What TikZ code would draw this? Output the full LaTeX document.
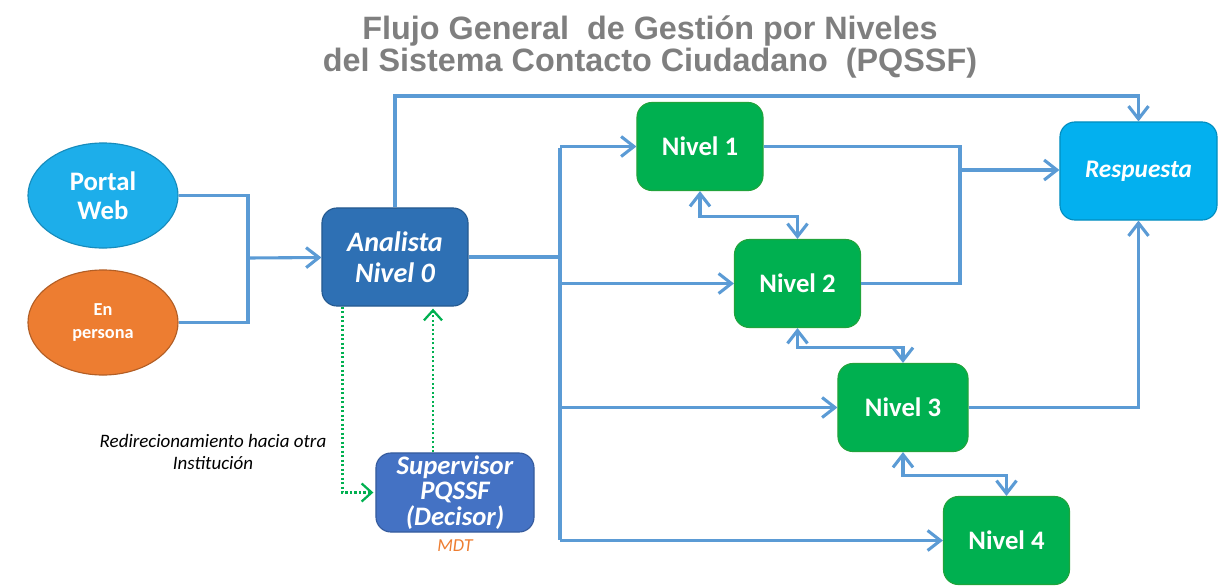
\documentclass[tikz,border=0pt]{standalone}
\usepackage{fontspec}
\setmainfont{Carlito}
\newfontfamily\titlefont{Liberation Sans}
\usetikzlibrary{arrows.meta, positioning, shapes.geometric}
\definecolor{lineblue}{HTML}{5B9BD5}
\definecolor{webblue}{HTML}{1DAEEA}
\definecolor{persorange}{HTML}{ED7D31}
\definecolor{anablue}{HTML}{2E70B4}
\definecolor{supblue}{HTML}{4472C4}
\definecolor{respblue}{HTML}{03B0EF}
\definecolor{nivgreen}{HTML}{00B050}
\definecolor{titlegray}{HTML}{7F7F7F}
\tikzset{
  source/.style={ellipse,draw,line width=0.8pt,minimum width=37.5mm,minimum height=26.25mm,inner sep=0pt,align=center,text=white,font=\bfseries},
  box/.style={rectangle,rounded corners=3.75mm,draw,line width=0.8pt,inner sep=0pt,align=center,text=white,font=\bfseries},
  nivel/.style={box,fill=nivgreen,draw=nivgreen!75!olive,minimum width=31.5mm,minimum height=22mm,font=\fontsize{19}{20}\selectfont\bfseries},
  line/.style={draw=lineblue,line width=2.2pt},
  arrow/.style={line,-{Straight Barb[length=3.2mm,width=5mm,line width=2.2pt]}},
  both/.style={line,{Straight Barb[length=3.2mm,width=5mm,line width=2.2pt]}-{Straight Barb[length=3.2mm,width=5mm,line width=2.2pt]}},
  dotarrow/.style={draw=nivgreen,line width=2pt,dash pattern=on 1.6pt off 1.6pt,-{Straight Barb[length=2.5mm,width=4.5mm,line width=1.6pt,sep]}}
}

\begin{document}
\begin{tikzpicture}[x=0.025cm,y=-0.025cm]
\useasboundingbox (0,0) rectangle (1219,586);
% title
\node[align=center,text=titlegray,font=\titlefont\fontsize{23}{23}\selectfont\bfseries] (title) at (650,47)
  {Flujo General\ \ de Gestión por Niveles\\del Sistema Contacto Ciudadano\ \ (PQSSF)};
% inputs
\node[source,fill=webblue,draw=webblue!80!black,font=\fontsize{19}{21}\selectfont\bfseries] (web) at (103,195.5) {Portal\\Web};
\node[source,fill=persorange,draw=persorange!75!black,font=\fontsize{13}{17}\selectfont\bfseries] (pers) at (103,322.5) {En\\persona};
% main boxes
\node[box,fill=anablue,draw=anablue!80!black,minimum width=36.5mm,minimum height=24.5mm,font=\fontsize{20}{22}\selectfont\bfseries\itshape] (ana) at (395,257) {Analista\\Nivel 0};
\node[box,fill=supblue,draw=supblue!80!black,minimum width=39.5mm,minimum height=19.75mm,font=\fontsize{19}{18}\selectfont\bfseries\itshape] (sup) at (455,492.5) {Supervisor\\PQSSF\\(Decisor)};
\node[below=0.6mm of sup,text=persorange,font=\fontsize{13}{14}\selectfont\itshape] (mdt) {MDT};
\node[align=center,font=\fontsize{13.5}{15}\selectfont\itshape] (redir) at (213,452) {Redirecionamiento hacia otra\\Institución};
\node[box,fill=respblue,draw=respblue!80!black,minimum width=39.25mm,minimum height=24.5mm,font=\fontsize{18}{20}\selectfont\bfseries\itshape] (resp) at (1138.5,171) {Respuesta};
% levels
\node[nivel] (n1) at (700,146.5) {Nivel 1};
\node[nivel] (n2) at (797.5,283.5) {Nivel 2};
\node[nivel,minimum width=32.5mm] (n3) at (903,407.5) {Nivel 3};
\node[nivel] (n4) at (1006.5,540.5) {Nivel 4};
% helper points
\coordinate (j1) at (248,258);
\coordinate (top) at (1138.5,96);
\coordinate (bt) at (560,148);
\coordinate (bb) at (560,540);
\coordinate (j2) at (960,170);
% connectors
\draw[line] (web.east) -| (j1);
\draw[line] (pers.east) -| (j1);
\draw[arrow] (j1) -- (ana);
\draw[arrow] (ana.north) |- (top) -- (resp.north);
\draw[line] (ana.east) -- (ana.east -| bt);
\draw[line] (bt) -- (bb);
\foreach \n in {n1,n2,n3,n4}
  \draw[arrow] (bt |- \n) -- (\n);
\draw[line] (n1.east) -| (j2);
\draw[line] (n2.east) -| (j2);
\draw[arrow] (j2) -- (j2 -| resp.west);
\draw[arrow] (n3.east) -| (resp.south);
\draw[both] (n1.south) -- ++(0,25) -| (n2.north);
\draw[both] (n2.south) -- ++(0,19) -| (n3.north);
\draw[both] (n3.south) -- ++(0,23) -| (n4.north);
% redirection loop
\draw[dotarrow] ([xshift=5.25mm]ana.south west) |- (sup.west);
\draw[dotarrow] ([xshift=-5.5mm]sup.north) -- ([xshift=-5.5mm]sup.north |- ana.south);
\end{tikzpicture}
\end{document}
